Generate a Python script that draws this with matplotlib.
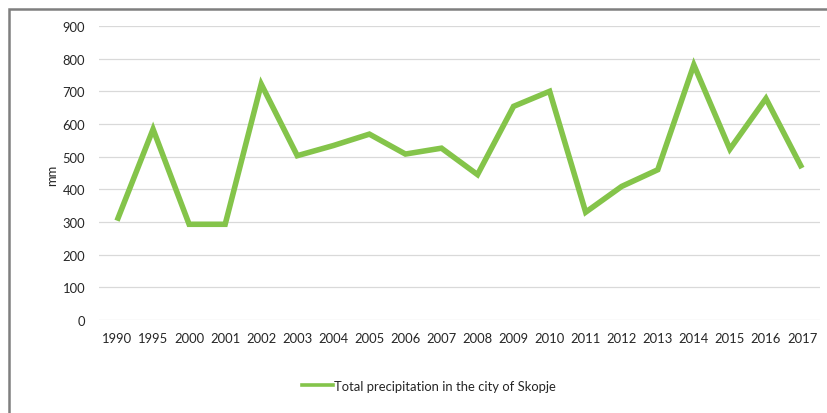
import matplotlib
matplotlib.use("Agg")
import matplotlib.pyplot as plt
from matplotlib.patches import Rectangle
from matplotlib.lines import Line2D

years = ["1990", "1995", "2000", "2001", "2002", "2003", "2004", "2005", "2006", "2007",
         "2008", "2009", "2010", "2011", "2012", "2013", "2014", "2015", "2016", "2017"]
precip = [304, 584, 293, 293, 722, 503, 534, 569, 508, 526,
          445, 654, 700, 330, 409, 460, 781, 523, 678, 465]
yticks = [0, 100, 200, 300, 400, 500, 600, 700, 800, 900]
series_label = "Total precipitation in the city of Skopje"
ylabel = "mm"

plt.rcParams['font.family'] = ['Lato', 'DejaVu Sans']
txt = '#262626'
green = '#84c44a'
fs = 9.4

fig = plt.figure(figsize=(8.28, 4.14), dpi=100)
W, H = 828, 414
ax = fig.add_axes([99 / W, 1 - 321 / H, (820 - 99) / W, (321 - 27) / H])

x = list(range(len(years)))
ax.plot(x, precip, color=green, lw=4.0, solid_joinstyle='miter',
        solid_capstyle='butt', zorder=3)

ax.set_xlim(-0.5, len(years) - 0.5)
ax.set_ylim(0, 900)
ax.set_yticks(yticks)
ax.set_yticklabels([str(v) for v in yticks])
ax.set_xticks(x)
ax.set_xticklabels(years)
ax.tick_params(axis='both', length=0, labelsize=fs, colors=txt)
ax.tick_params(axis='y', pad=10)
ax.tick_params(axis='x', pad=9)
ax.grid(axis='y', color='#d9d9d9', lw=0.9)
ax.set_axisbelow(True)
for s in ax.spines.values():
    s.set_visible(False)

fig.text(52 / W, 1 - 175 / H, ylabel, rotation=90, ha='center', va='center',
         fontsize=fs, color=txt)

proxy = Line2D([], [], color=green, lw=2.6)
fig.legend(handles=[proxy], labels=[series_label], loc='center',
           bbox_to_anchor=(429 / W, 1 - 387 / H),
           frameon=False, fontsize=fs, handlelength=2.4, handletextpad=0.1,
           labelcolor=txt)

fig.patches.append(Rectangle((9 / W, -0.05), 1.0, 1 - 10 / H + 0.05,
                             transform=fig.transFigure, fill=False,
                             edgecolor='#7f7f7f', lw=1.8, zorder=0))

fig.savefig('out.png', dpi=100)
